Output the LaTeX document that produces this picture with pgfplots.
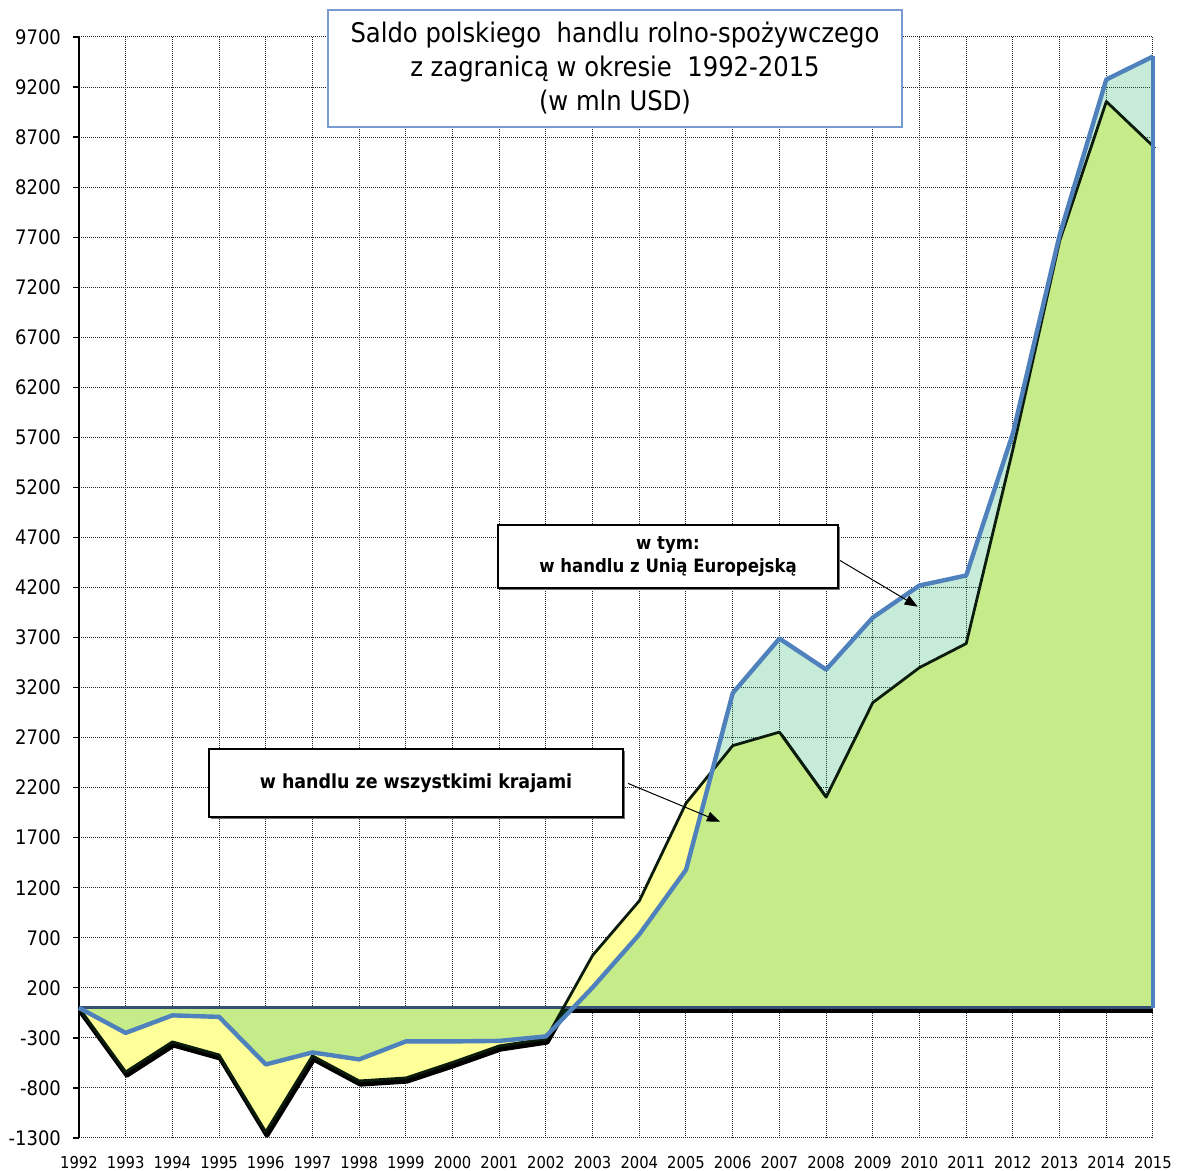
\documentclass[border=0pt]{standalone}
\usepackage{pgfplots}
\pgfplotsset{compat=1.18}
\usepackage{pgfplotstable}
\usepackage{fontspec}
\setmainfont{DejaVu Sans Condensed}
\usetikzlibrary{arrows.meta,shadows}

\definecolor{yell}{RGB}{255,255,153}
\definecolor{euover}{RGB}{13,170,89}
\definecolor{blueline}{RGB}{79,129,189}
\definecolor{zeroline}{RGB}{52,80,115}
\definecolor{darkline}{RGB}{12,28,12}
\definecolor{titleborder}{RGB}{120,155,210}

\pgfplotstableread{
year all eu
1992 0 0
1993 -640 -250
1994 -340 -75
1995 -470 -90
1996 -1240 -565
1997 -480 -445
1998 -730 -515
1999 -700 -335
2000 -545 -335
2001 -380 -330
2002 -310 -285
2003 525 205
2004 1070 735
2005 2045 1380
2006 2620 3145
2007 2755 3690
2008 2105 3380
2009 3050 3900
2010 3400 4220
2011 3640 4320
2012 5580 5740
2013 7660 7720
2014 9055 9275
2015 8610 9505
}\data

\begin{document}
\begin{tikzpicture}
\path[use as bounding box] (-39.5pt,-16.5pt) rectangle (549pt,569pt);
\begin{axis}[
 at={(0,0)}, anchor=south west,
 scale only axis, width=537pt, height=550.5pt,
 xmin=1992, xmax=2015, ymin=-1300, ymax=9700,
 xtick={1992,...,2015}, ytick={-1300,-800,...,9700},
 grid=major,
 major grid style={black!85, line width=0.5pt, dash pattern=on 0.5pt off 0.5pt},
 axis y line*=left, axis x line*=bottom,
 x axis line style={draw=none},
 y axis line style={black, line width=0.6pt},
 xtick style={draw=none},
 ytick style={black, line width=0.6pt},
 tick align=outside, major tick length=3pt,
 /pgf/number format/1000 sep={},
 /pgf/number format/assume math mode=true,
 yticklabel style={font=\fontsize{10}{11}\selectfont, black, xshift=-2.5pt},
 xticklabel style={font=\fontsize{8.2}{10}\selectfont, black, yshift=-2.5pt},
 clip=false,
 no marks,
]
% shadows
\addplot[black, line width=2.5pt, line join=round, xshift=0.6pt, yshift=-1.6pt] table[x=year,y=all]{\data};
\draw[black, line width=2pt, yshift=-1.8pt] (axis cs:1992,0) -- (axis cs:2015,0);
% areas
\addplot[fill=yell, draw=none] table[x=year,y=all]{\data} \closedcycle;
\addplot[fill=euover, fill opacity=0.235, draw=none] table[x=year,y=eu]{\data} \closedcycle;
% lines
\draw[zeroline, line width=1.6pt] (axis cs:1992,0) -- (axis cs:2015,0);
\addplot[darkline, line width=1.4pt, line join=round] table[x=year,y=all]{\data};
\addplot[blueline, line width=2.2pt, line join=round] table[x=year,y=eu]{\data};
\draw[blueline, line width=2.2pt] (axis cs:2015,9505) -- (axis cs:2015,0);
\end{axis}

% arrows
\draw[-{Triangle[length=6.5pt,width=5pt]}, line width=0.5pt] (379.5pt,289.35pt) -- (419.35pt,265.65pt);
\draw[-{Triangle[length=6.5pt,width=5pt]}, line width=0.5pt] (274.5pt,177.3pt) -- (320.5pt,158.15pt);

% title
\node[draw=titleborder, line width=0.6pt, fill=white, minimum width=287pt, minimum height=58.5pt,
  align=center, font=\fontsize{13.5}{17}\selectfont, inner sep=0pt]
  at (268pt,534.75pt) {Saldo polskiego\ \ handlu rolno-spożywczego\\ z zagranicą w okresie\ \ 1992-2015\\ (w mln USD)};

% annotations
\node[draw=black, line width=0.6pt, fill=white,
  drop shadow={shadow xshift=0.8pt, shadow yshift=-0.8pt, fill=black!55, opacity=1},
  minimum width=170pt, minimum height=31.5pt, align=center,
  font=\bfseries\fontsize{9.2}{11.5}\selectfont, inner sep=0pt]
  at (294.5pt,290.75pt) {w tym:\\ w handlu z Unią Europejską};
\node[draw=black, line width=0.6pt, fill=white,
  drop shadow={shadow xshift=0.8pt, shadow yshift=-0.8pt, fill=black!55, opacity=1},
  minimum width=207pt, minimum height=34pt, align=center,
  font=\bfseries\fontsize{9.7}{11.5}\selectfont, inner sep=0pt]
  at (168.5pt,177.5pt) {w handlu ze wszystkimi krajami};
\end{tikzpicture}
\end{document}
